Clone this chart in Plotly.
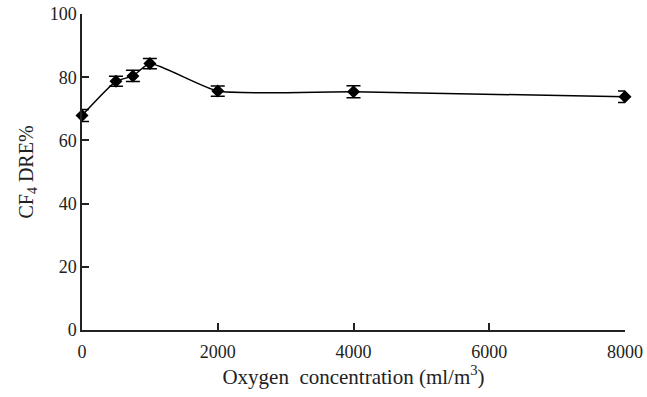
import plotly.graph_objects as go

# Oxygen concentration (ml/m3) and CF4 destruction and removal efficiency (%)
oxygen = [0, 500, 750, 1000, 2000, 4000, 8000]
dre = [67.9, 78.7, 80.4, 84.3, 75.6, 75.4, 73.8]
dre_err = [1.9, 1.6, 1.8, 1.6, 1.6, 1.9, 1.8]

x_ticks = [0, 2000, 4000, 6000, 8000]
y_ticks = [0, 20, 40, 60, 80, 100]

font_family = "Liberation Serif, Times New Roman, serif"

fig = go.Figure()
fig.add_trace(go.Scatter(
    x=oxygen,
    y=dre,
    mode="lines+markers",
    line=dict(color="black", width=1.5, shape="spline", smoothing=0.5),
    marker=dict(symbol="diamond", size=10, color="black"),
    error_y=dict(type="data", array=dre_err, visible=True,
                 color="black", thickness=1.5, width=7),
    cliponaxis=False,
    showlegend=False,
))

axis_common = dict(
    showgrid=False,
    zeroline=False,
    showline=True,
    linecolor="#222",
    linewidth=1.5,
    ticks="inside",
    ticklen=7,
    tickwidth=1.5,
    tickcolor="#222",
    automargin=False,
    tickfont=dict(family=font_family, size=18, color="#222"),
)

fig.update_layout(
    width=647,
    height=397,
    margin=dict(l=82, r=22, t=14, b=67),
    paper_bgcolor="white",
    plot_bgcolor="white",
    font=dict(family=font_family, color="#222"),
    xaxis=dict(
        **axis_common,
        range=[0, 8000],
        tickvals=x_ticks,
        ticktext=[str(v) for v in x_ticks],
        ticklabelstandoff=5,
        title=dict(text="Oxygen&nbsp; concentration (ml/m<sup>3</sup>)",
                   font=dict(family=font_family, size=21, color="#222"),
                   standoff=4),
    ),
    yaxis=dict(
        **axis_common,
        range=[0, 100],
        tickvals=y_ticks,
        ticktext=[str(v) for v in y_ticks],
        ticklabelstandoff=0,
        title=dict(text="CF<sub>4</sub> DRE%",
                   font=dict(family=font_family, size=20, color="#222"),
                   standoff=11),
    ),
)

fig.write_html("out.html")
